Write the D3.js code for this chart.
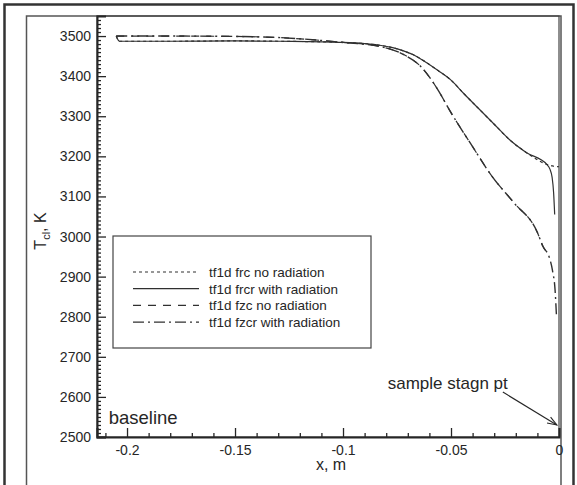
<!DOCTYPE html>
<html><head><meta charset="utf-8">
<script src="https://cdn.jsdelivr.net/npm/d3@7/dist/d3.min.js"></script>
<style>
body{margin:0;background:#fff;}
svg{display:block;font-family:"Liberation Sans",Arial,Helvetica,sans-serif;}
</style></head>
<body><svg id="c" width="577" height="485"></svg>
<script>
// ---- data ----
const seriesNames = ["tf1d frc no radiation","tf1d frcr with radiation","tf1d fzc no radiation","tf1d fzcr with radiation"];
const frcX  = [-0.205,-0.2035,-0.18,-0.15,-0.129,-0.1,-0.09,-0.083,-0.077,-0.072,-0.067,-0.062,-0.056,-0.050,-0.044,-0.037,-0.030,-0.023,-0.015,-0.0057,-0.003,0];
const frcY  = [3500,3487,3487,3488,3487,3484,3481,3477,3471,3463,3452,3436,3414,3390,3356,3318,3280,3242,3209,3180,3176,3174];
const frcrX = [-0.205,-0.2035,-0.18,-0.15,-0.129,-0.1,-0.09,-0.083,-0.077,-0.072,-0.067,-0.062,-0.056,-0.050,-0.044,-0.037,-0.030,-0.023,-0.015,-0.0057,-0.0042,-0.0032,-0.0025,-0.002];
const frcrY = [3500,3487,3487,3488,3487,3484,3481,3477,3471,3463,3452,3436,3414,3390,3356,3318,3280,3242,3209,3180,3168,3148,3110,3055];
const fzcX  = [-0.205,-0.18,-0.15,-0.129,-0.1,-0.083,-0.072,-0.064,-0.057,-0.050,-0.040,-0.031,-0.021,-0.010,-0.0074,-0.0042];
const fzcY  = [3500,3500,3499,3496,3484,3474,3454,3424,3374,3309,3224,3150,3085,3010,2975,2955];
const fzcrX = [-0.205,-0.18,-0.15,-0.129,-0.1,-0.083,-0.072,-0.064,-0.057,-0.050,-0.040,-0.031,-0.021,-0.010,-0.0074,-0.0045,-0.003,-0.0018,-0.0012];
const fzcrY = [3500,3500,3499,3496,3484,3474,3454,3424,3374,3309,3224,3150,3085,3010,2975,2948,2915,2865,2805];
const xTicks = [-0.2,-0.15,-0.1,-0.05,0];
const xTickLabels = ["-0.2","-0.15","-0.1","-0.05","0"];
const yTicks = [2500,2600,2700,2800,2900,3000,3100,3200,3300,3400,3500];
const dashes = ["3,3", null, "8,7", "11,4,2,4"];

const svg = d3.select("#c");
const ink = "#262626";
// frames
svg.append("rect").attr("x",4.5).attr("y",4.5).attr("width",569).attr("height",500)
  .attr("fill","none").attr("stroke","#333").attr("stroke-width",2.5);
svg.append("rect").attr("x",26.5).attr("y",16).attr("width",534.5).attr("height",500)
  .attr("fill","none").attr("stroke","#555").attr("stroke-width",1.5);

const L=97, R=559, T=16, B=437;
const x = d3.scaleLinear().domain([-0.2139,0]).range([L,R]);
const y = d3.scaleLinear().domain([2500,3550]).range([B,T]);

// plot border
svg.append("rect").attr("x",L).attr("y",T).attr("width",R-L).attr("height",B-T)
  .attr("fill","none").attr("stroke","#444").attr("stroke-width",1.2);

// y axis
svg.append("g").attr("transform",`translate(${L},0)`)
  .call(d3.axisLeft(y).tickValues(yTicks).tickSize(-9).tickPadding(6).tickFormat(d3.format("d")));
const yMinor = d3.range(2510,3550,10).filter(v=>v%100!==0);
svg.append("g").attr("transform",`translate(${L},0)`)
  .call(d3.axisLeft(y).tickValues(yMinor).tickSize(-4).tickFormat(""))
  .call(g=>g.select(".domain").remove());
// x axis
svg.append("g").attr("transform",`translate(0,${B})`)
  .call(d3.axisBottom(x).tickValues(xTicks).tickSize(-9).tickPadding(8).tickFormat((d,i)=>xTickLabels[i]));
const xMinor = d3.range(-0.21,0,0.01).filter(v=>Math.abs(Math.round(v*100)%5)!==0);
svg.append("g").attr("transform",`translate(0,${B})`)
  .call(d3.axisBottom(x).tickValues(xMinor).tickSize(-4).tickFormat(""))
  .call(g=>g.select(".domain").remove());
svg.selectAll(".domain").attr("stroke",ink).attr("stroke-width",2);
svg.selectAll(".tick line").attr("stroke",ink).attr("stroke-width",1.3);
svg.selectAll(".tick text").attr("fill",ink).attr("font-size",14).attr("font-family","Liberation Sans, Arial, sans-serif");

// axis titles
svg.append("text").attr("x",(L+R)/2+3).attr("y",470).attr("text-anchor","middle")
  .attr("font-size",16).attr("fill",ink).text("x, m");
const yt = svg.append("text").attr("transform","translate(46,231) rotate(-90)")
  .attr("text-anchor","middle").attr("font-size",16).attr("fill",ink);
yt.append("tspan").text("T");
yt.append("tspan").attr("font-size",11).attr("dy",4).text("cl");
yt.append("tspan").attr("dy",-4).text(", K");

// curves
const sets = [[frcX,frcY],[frcrX,frcrY],[fzcX,fzcY],[fzcrX,fzcrY]];
const line = d3.line().x(d=>x(d[0])).y(d=>y(d[1])).curve(d3.curveMonotoneX);
sets.forEach((s,i)=>{
  const pts = s[0].map((v,j)=>[v,s[1][j]]);
  svg.append("path").attr("d",line(pts)).attr("fill","none")
    .attr("stroke","#303030").attr("stroke-width",i===3?1.4:1.2)
    .attr("stroke-dasharray",dashes[i]);
});

// legend
const lg = svg.append("g");
lg.append("rect").attr("x",113).attr("y",236).attr("width",258).attr("height",112)
  .attr("fill","#fff").attr("stroke","#444").attr("stroke-width",1.2);
seriesNames.forEach((n,i)=>{
  const yy = 272 + i*16.7;
  lg.append("line").attr("x1",133).attr("x2",199).attr("y1",yy).attr("y2",yy)
    .attr("stroke","#303030").attr("stroke-width",1.2).attr("stroke-dasharray",dashes[i]);
  lg.append("text").attr("x",209).attr("y",yy+5).attr("font-size",13.5).attr("fill",ink).text(n);
});

// annotations
svg.append("text").attr("x",x(-0.2085)).attr("y",y(2533)).attr("font-size",18.5).attr("fill",ink).text("baseline");
svg.append("text").attr("x",x(-0.0515)).attr("y",y(2620)).attr("text-anchor","middle")
  .attr("font-size",17).attr("fill",ink).text("sample stagn pt");
const ax1=x(-0.026), ay1=y(2612), ax2=x(-0.001), ay2=y(2530);
svg.append("line").attr("x1",ax1).attr("y1",ay1).attr("x2",ax2).attr("y2",ay2).attr("stroke",ink).attr("stroke-width",1.1);
const ang=Math.atan2(ay2-ay1,ax2-ax1), hl=10, hw=0.35;
svg.append("path").attr("d",`M${ax2-hl*Math.cos(ang-hw)},${ay2-hl*Math.sin(ang-hw)}L${ax2},${ay2}L${ax2-hl*Math.cos(ang+hw)},${ay2-hl*Math.sin(ang+hw)}`)
  .attr("fill","none").attr("stroke",ink).attr("stroke-width",1.1);
</script></body></html>
